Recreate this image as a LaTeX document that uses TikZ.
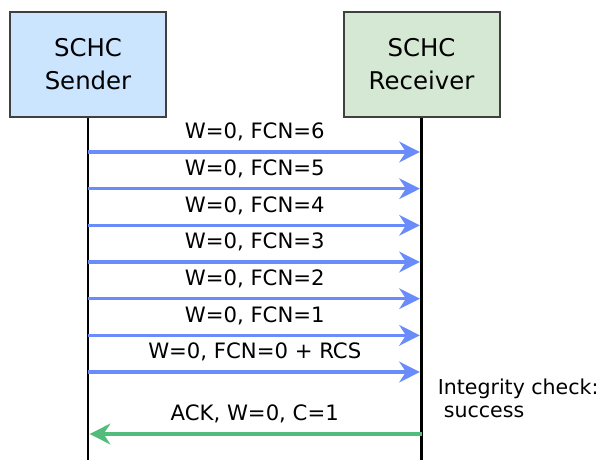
\documentclass[tikz,border=0pt]{standalone}
\usepackage{fontspec}
\setmainfont{DejaVu Sans}
\usetikzlibrary{arrows.meta,positioning}
\definecolor{msgblue}{HTML}{6A8CFA}
\definecolor{ackgreen}{HTML}{52BC7A}
\definecolor{senderfill}{HTML}{CCE5FF}
\definecolor{receiverfill}{HTML}{D5E8D4}

\begin{document}
\begin{tikzpicture}[x=0.75pt,y=-0.75pt,
  party/.style={draw=black!75, line width=1.5pt, minimum width=117pt,
    minimum height=78.75pt, align=center, font=\fontsize{18.3}{24.75}\selectfont},
  life/.style={line width=2.2pt},
  msg/.style={draw=msgblue, line width=2.3pt, shorten >=1.2pt,
    -{Stealth[length=15.5pt,width=15.5pt,inset=5pt]}},
  ack/.style={msg, draw=ackgreen},
  msglabel/.style={midway, anchor=base, yshift=10pt, font=\fontsize{15.9}{18}\selectfont},
  note/.style={align=left, inner sep=0pt, font=\fontsize{15.4}{17.25}\selectfont}]
  \useasboundingbox (0,0) rectangle (604,460);

  % the two parties and their lifelines
  \node[party, fill=senderfill] (sender) at (88,64.5) {SCHC\\Sender};
  \node[party, fill=receiverfill] (receiver) at (421.5,64.5) {SCHC\\Receiver};
  \coordinate (sender end) at (sender.south |- 0,460);
  \coordinate (receiver end) at (receiver.south |- 0,460);
  \draw[life] (sender.south) -- (sender end);
  \draw[life] (receiver.south) -- (receiver end);

  % fragments of window 0
  \foreach \fcn [count=\i from 0] in {6,5,4,3,2,1,0 + RCS}{%
    \pgfmathsetmacro{\y}{152+36.67*\i}
    \coordinate (s\i) at (sender.south |- 0,\y);
    \coordinate (r\i) at (receiver.south |- 0,\y);
    \draw[msg] (s\i) -- node[msglabel] {W=0, FCN=\fcn} (r\i);
  }

  \node[note, anchor=west] (check) at ([shift={(16,26)}]r6)
    {Integrity check:\\\hspace{0.3em}success};

  % acknowledgement back to the sender
  \coordinate (ack r) at (receiver.south |- 0,434);
  \coordinate (ack s) at (sender.south |- 0,434);
  \draw[ack] (ack r) -- node[msglabel] {ACK, W=0, C=1} (ack s);
\end{tikzpicture}
\end{document}
